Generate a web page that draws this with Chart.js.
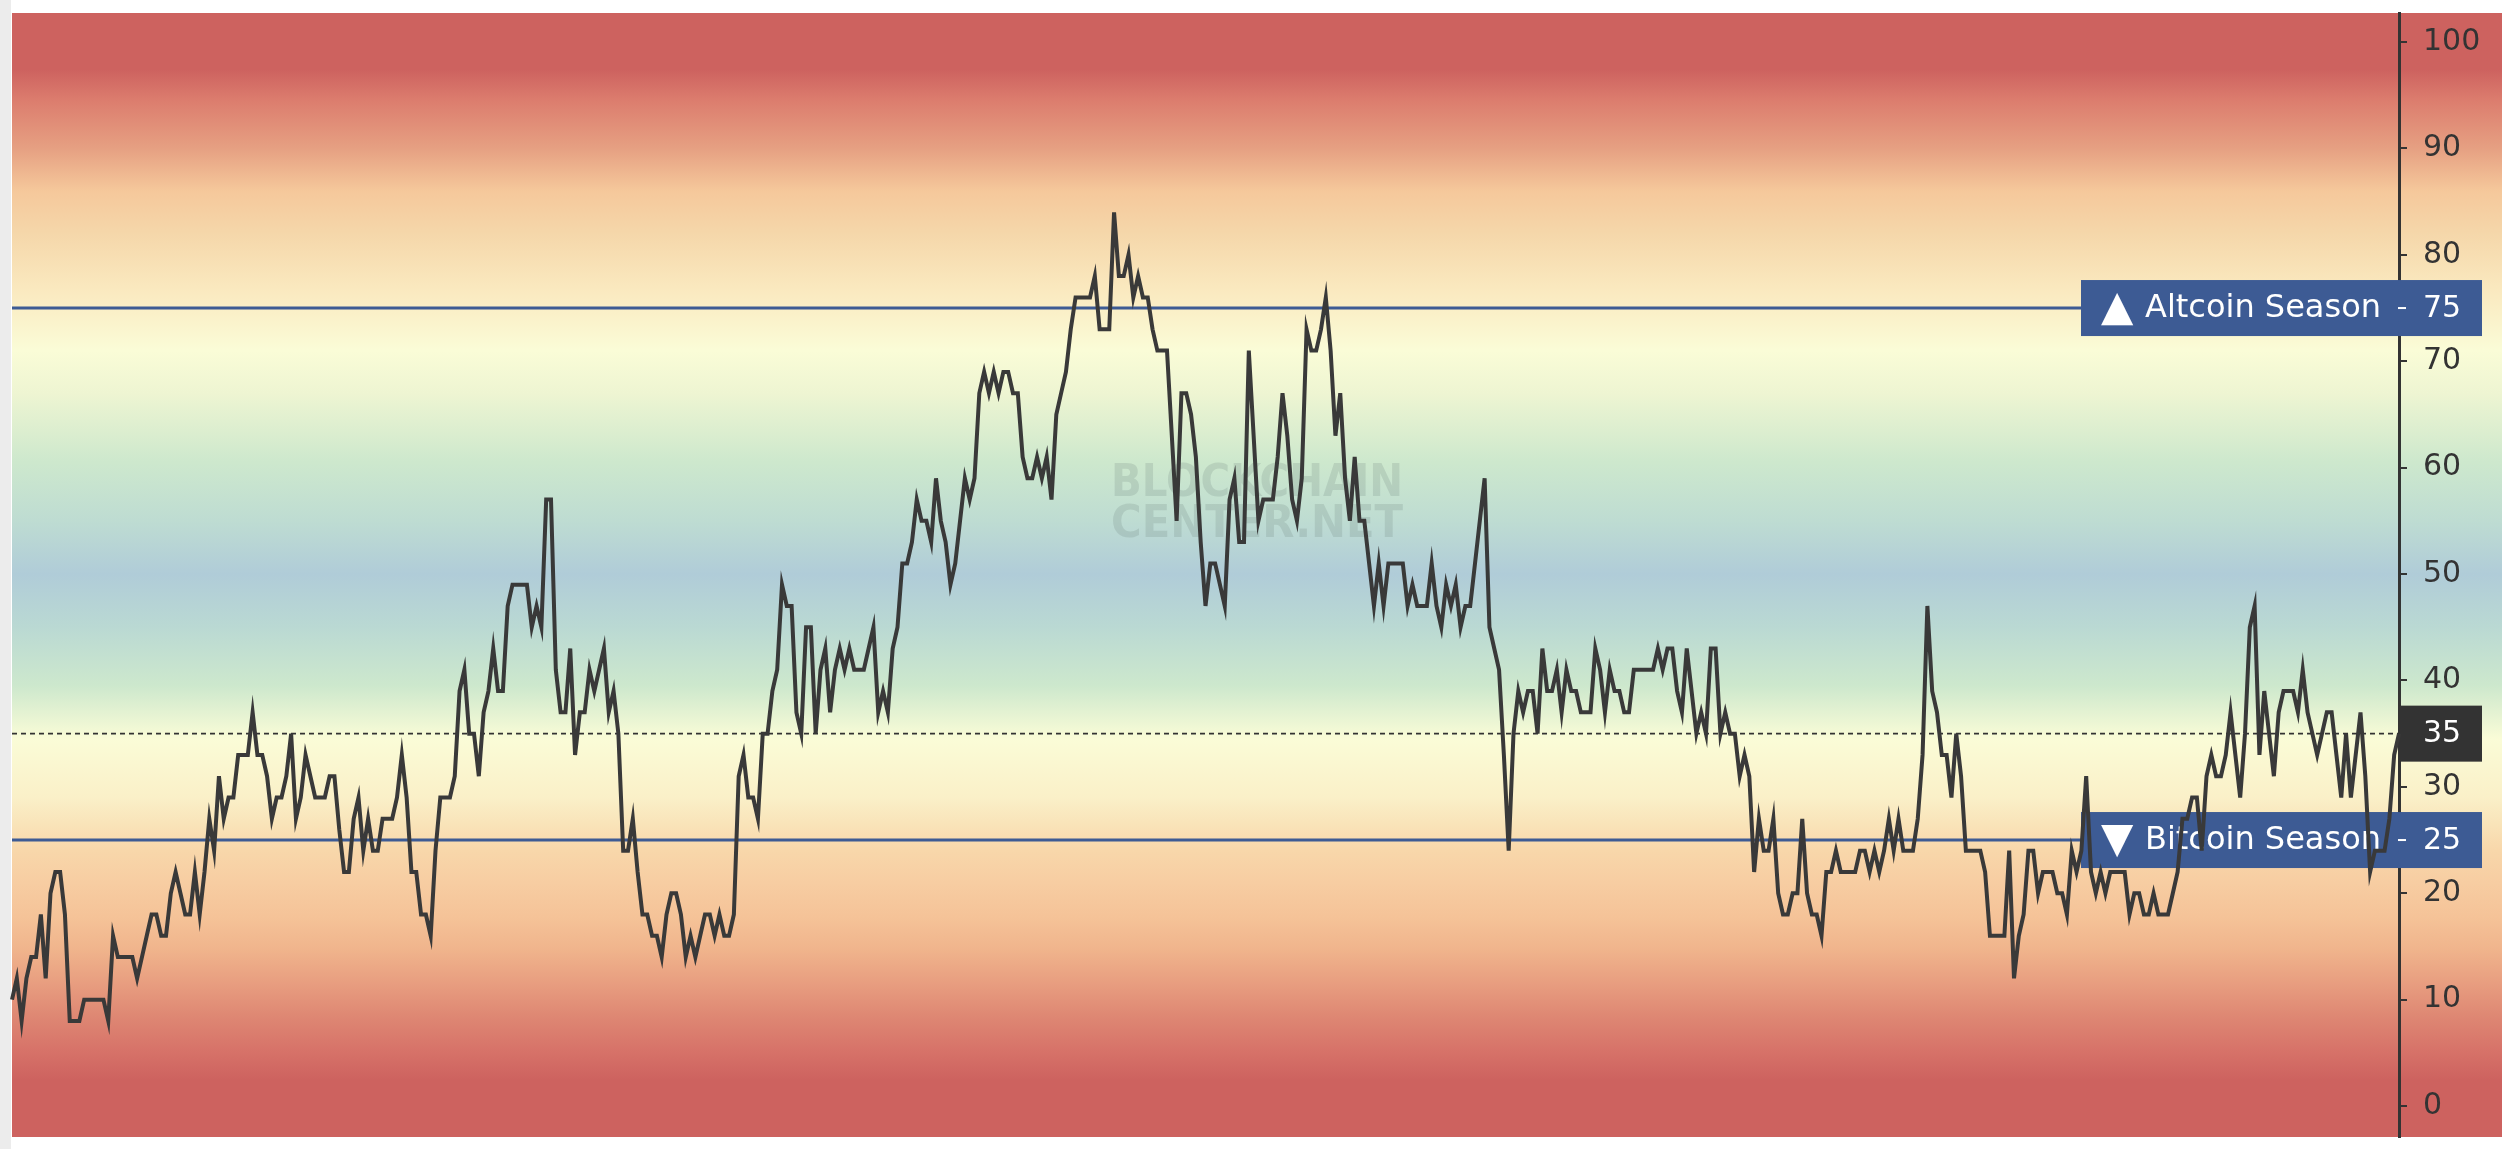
<!DOCTYPE html>
<html>
<head>
<meta charset="utf-8">
<script src="https://cdn.jsdelivr.net/npm/chart.js@4.4.1/dist/chart.umd.min.js"></script>
<style>
  html, body { margin: 0; padding: 0; background: #fff; }
  canvas { display: block; }
</style>
</head>
<body>
<canvas id="seasonChart" width="2513" height="1149" style="width:2513px;height:1149px"></canvas>
<script>
// altcoin season index left to right
const seasonIndex = [
  10,12,8,12,14,14,18,12,20,22,22,18,8,8,8,10,10,10,10,10,8,16,14,14,14,14,12,14,16,18,18,16,16,20,22,20,18,18,22,18,22,27,24,31,27,29,29,33,33,33,37,33,33,31,27,29,29,31,35,27,29,33,31,29,29,29,
  31,31,26,22,22,27,29,24,27,24,24,27,27,27,29,33,29,22,22,18,18,16,24,29,29,29,31,39,41,35,35,31,37,39,43,39,39,47,49,49,49,49,45,47,45,57,57,41,37,37,43,33,37,37,41,39,41,43,37,39,35,24,24,
  27,22,18,18,16,16,14,18,20,20,18,14,16,14,16,18,18,16,18,16,16,18,31,33,29,29,27,35,35,39,41,49,47,47,37,35,45,45,35,41,43,37,41,43,41,43,41,41,41,43,45,37,39,37,43,45,51,51,53,57,55,55,
  53,59,55,53,49,51,55,59,57,59,67,69,67,69,67,69,69,67,67,61,59,59,61,59,61,57,65,67,69,73,76,76,76,76,78,73,73,73,84,78,78,80,76,78,76,76,73,71,71,71,63,55,67,67,65,61,53,47,51,51,49,47,
  57,59,53,53,71,63,55,57,57,57,61,67,63,57,55,59,73,71,71,73,76,71,63,67,59,55,61,55,55,51,47,51,47,51,51,51,51,47,49,47,47,47,51,47,45,49,47,49,45,47,47,51,55,59,45,43,41,33,24,35,39,37,
  39,39,35,43,39,39,41,37,41,39,39,37,37,37,43,41,37,41,39,39,37,37,41,41,41,41,41,43,41,43,43,39,37,43,39,35,37,35,43,43,35,37,35,35,31,33,31,22,27,24,24,27,20,18,18,20,20,27,20,18,18,16,22,
  22,24,22,22,22,22,24,24,22,24,22,24,27,24,27,24,24,24,27,33,47,39,37,33,33,29,35,31,24,24,24,24,22,16,16,16,16,24,12,16,18,24,24,20,22,22,22,20,20,18,24,22,24,31,22,20,22,20,22,22,22,22,
  18,20,20,18,18,20,18,18,18,20,22,27,27,29,29,24,31,33,31,31,33,37,33,29,35,45,47,33,39,35,31,37,39,39,39,37,41,37,35,33,35,37,37,33,29,35,29,33,37,31,22,24,24,24,27,33,35
];
const tickValues = [0, 10, 20, 30, 40, 50, 60, 70, 80, 90, 100];
const altcoinLevel = 75;
const bitcoinLevel = 25;
const currentLevel = 35;

const bandStops = [
  [100, '#cd625f'], [97.4, '#cd625f'], [94.5, '#dc7d6e'], [90, '#e6a082'],
  [86, '#f5c89b'], [82, '#f5d7aa'], [77, '#fae8be'], [71, '#fafcd7'],
  [67, '#eef5d2'], [60.5, '#cde8cd'], [55, '#bedcd2'], [50, '#b0ccd8'],
  [45, '#bad9d3'], [39.5, '#cde8cd'], [34.5, '#fafcd7'], [29, '#faf0c8'],
  [24, '#f8d7aa'], [21, '#f7cda2'], [17.8, '#f5c398'], [14.7, '#f0b48c'],
  [11.6, '#e89e80'], [8.4, '#de8773'], [5.3, '#d77369'], [2.4, '#cd625f'], [0, '#cd625f']
];

const FONT = '"DejaVu Sans", Verdana, sans-serif';
const BLUE = '#3d5b94';

function levelBox(ctx, area, y, value, text, arrow, fill) {
  const py = y.getPixelForValue(value);
  const left = area.right - 318;
  const right = area.right + 83;
  ctx.fillStyle = fill;
  ctx.fillRect(left, py - 28, right - left, 56);
  ctx.fillStyle = '#fff';
  ctx.textBaseline = 'middle';
  ctx.font = '42px ' + FONT;
  ctx.textAlign = 'left';
  ctx.fillText(arrow, left + 20, py + 1);
  ctx.font = '32px ' + FONT;
  ctx.textAlign = 'right';
  ctx.fillText(text, area.right - 18, py + 1);
  ctx.strokeStyle = '#fff';
  ctx.lineWidth = 2;
  ctx.beginPath();
  ctx.moveTo(area.right - 1, py);
  ctx.lineTo(area.right + 7, py);
  ctx.stroke();
  ctx.font = '30px ' + FONT;
  ctx.textAlign = 'left';
  ctx.fillText(String(value), area.right + 24, py + 1);
}

const seasonBackdrop = {
  id: 'seasonBackdrop',
  beforeDraw(chart) {
    const { ctx, chartArea: a, scales: { y } } = chart;
    const g = ctx.createLinearGradient(0, y.getPixelForValue(100), 0, y.getPixelForValue(0));
    bandStops.forEach(([v, c]) => g.addColorStop((100 - v) / 100, c));
    ctx.save();
    ctx.fillStyle = '#ececec';
    ctx.fillRect(0, 0, 11, chart.height);
    ctx.fillStyle = g;
    ctx.fillRect(a.left, a.top, chart.width - 11 - a.left, a.bottom - a.top);
    ctx.restore();
  },
  beforeDatasetsDraw(chart) {
    const { ctx, chartArea: a, scales: { y } } = chart;
    ctx.save();

    // watermark
    ctx.fillStyle = 'rgba(105,125,120,0.2)';
    ctx.font = 'bold 45px ' + FONT;
    ctx.textAlign = 'center';
    ctx.textBaseline = 'middle';
    ctx.fillText('BLOCKCHAIN', a.left + 1245, 484, 292);
    ctx.fillText('CENTER.NET', a.left + 1245, 525, 292);

    // threshold lines
    ctx.strokeStyle = BLUE;
    ctx.lineWidth = 3;
    [altcoinLevel, bitcoinLevel].forEach(v => {
      const py = y.getPixelForValue(v);
      ctx.beginPath();
      ctx.moveTo(a.left, py);
      ctx.lineTo(a.right - 318, py);
      ctx.stroke();
    });

    // current value line
    const cy = y.getPixelForValue(currentLevel);
    ctx.strokeStyle = '#333';
    ctx.lineWidth = 1.6;
    ctx.setLineDash([5, 4]);
    ctx.beginPath();
    ctx.moveTo(a.left, cy);
    ctx.lineTo(a.right, cy);
    ctx.stroke();
    ctx.setLineDash([]);

    levelBox(ctx, a, y, altcoinLevel, 'Altcoin Season', '\u25B2', BLUE);
    levelBox(ctx, a, y, bitcoinLevel, 'Bitcoin Season', '\u25BC', BLUE);

    // current value tag on the axis
    ctx.fillStyle = '#333';
    ctx.fillRect(a.right, cy - 28, 83, 56);
    ctx.fillStyle = '#fff';
    ctx.font = '30px ' + FONT;
    ctx.textAlign = 'left';
    ctx.textBaseline = 'middle';
    ctx.fillText(String(currentLevel), a.right + 24, cy + 1);

    ctx.restore();
  }
};

new Chart(document.getElementById('seasonChart'), {
  type: 'line',
  data: {
    labels: seasonIndex.map((_, i) => i),
    datasets: [{
      data: seasonIndex,
      borderColor: '#393939',
      borderWidth: 4,
      pointRadius: 0,
      tension: 0,
      fill: false
    }]
  },
  options: {
    responsive: false,
    devicePixelRatio: 1,
    animation: false,
    layout: { padding: { left: 12, top: 13, right: 11, bottom: 12 } },
    plugins: { legend: { display: false }, tooltip: { enabled: false } },
    scales: {
      x: { display: false },
      y: {
        position: 'right',
        min: -2.91,
        max: 102.73,
        afterFit: s => { s.width = 103; s.paddingTop = 0; s.paddingBottom = 0; },
        afterBuildTicks: s => { s.ticks = tickValues.map(v => ({ value: v })); },
        grid: { drawOnChartArea: false, drawTicks: true, tickLength: 8, color: '#333', lineWidth: 2 },
        border: { display: true, color: '#333', width: 3 },
        ticks: { color: '#333', padding: 16, font: { family: 'DejaVu Sans', size: 30 } }
      }
    }
  },
  plugins: [seasonBackdrop]
});
</script>
</body>
</html>
